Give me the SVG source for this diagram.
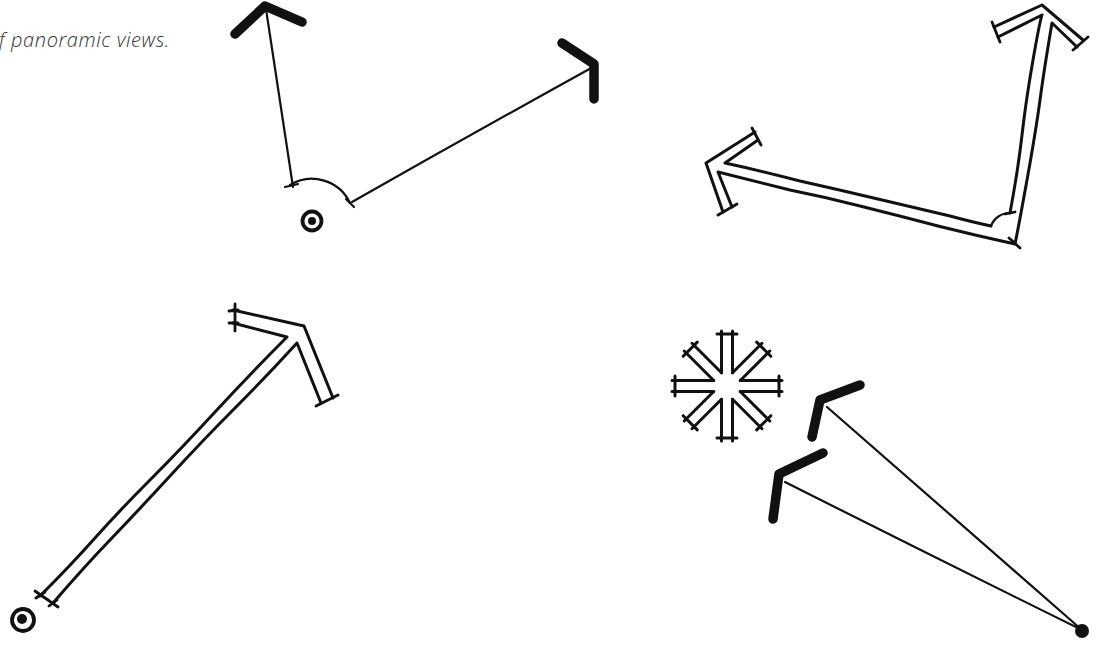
<svg xmlns="http://www.w3.org/2000/svg" xmlns:xlink="http://www.w3.org/1999/xlink" width="1098" height="645" viewBox="0 0 1098 645">
<style>
.thin{fill:none;stroke:#111;stroke-width:2.2;stroke-linecap:round;stroke-linejoin:round}
.tube{fill:none;stroke:#111;stroke-width:3;stroke-linecap:round;stroke-linejoin:round}
.thick{fill:none;stroke:#111;stroke-width:9.5;stroke-linecap:round;stroke-linejoin:round}
.ring{fill:none;stroke:#111;stroke-width:3.8}
.dot{fill:#111}
.cap{fill:none;stroke:#111;stroke-width:2.8;stroke-linecap:round}
.label{font-family:"Open Sans","Liberation Sans",sans-serif;font-style:italic;font-weight:300;font-size:20px;letter-spacing:0.6px;fill:#333}
</style>
<defs>
<path id="arm" d="M13.3,-5.5 L55,-5.5 M55,5.5 L13.3,5.5 M52,-10 L52,10"/>
</defs>
<rect width="1098" height="645" fill="#fff"/>
<text class="label" x="-1" y="47">f panoramic views.</text>

<g id="fig1">
  <path class="thick" d="M235,34 L265,6 L302,22"/>
  <path class="thick" d="M562,43 L594,64 L594,99"/>
  <path class="thin" d="M266,9 Q280,100 293,187"/>
  <path class="thin" d="M352,202 Q470,135 593,67"/>
  <path class="thin" d="M290,185 A42,42 0 0 1 350,203"/>
  <path class="thin" d="M285,187 L298,184 M346,199 L354,207"/>
  <circle class="ring" cx="312" cy="221" r="9.5"/>
  <circle class="dot" cx="312" cy="221" r="4"/>
</g>

<g id="fig2">
  <path class="tube" d="M758,140 L725,163 Q762,171 800,181 Q840,190 880,199.5 Q920,209 950,216 Q972,222 991,226 M1010,213 Q1018,170 1022,135 T1033,60 T1042,15 L998,37 M994,27 L1042,5 L1083,40 M1077,47 L1052,23 Q1044,70 1040,100 T1027,180 T1015,244 Q978,236 940,226.5 Q900,216 860,206 Q825,197 790,190 Q754,181 718,172 L732,207 M723,212 L706,163 L755,132"/>
  <path class="thin" d="M991,226 A20,20 0 0 1 1010,213"/>
  <path class="cap" d="M752,128 L761,145 M992,22 L1000,42 M1088,37 L1073,50 M718,215 L737,204"/>
  <path class="cap" d="M1005,214 L1015,212 M1009,238 L1020,248"/>
</g>

<g id="fig3">
  <path class="tube" d="M40,596 Q70,566 95,538 T150,480 T215,412 T287,337 L233,323 M233,310 L304,326 L333,398 M321,403 L297,343 Q265,378 235,408 T170,476 T110,540 T53,603"/>
  <path class="cap" d="M35,591 L58,607 M235,304 L235,331 M316,406 L338,395 M229,311 L238,310 M229,323 L238,323 M36,598 L45,592 M49,606 L57,600"/>
  <circle class="ring" cx="23" cy="620" r="11"/>
  <circle class="dot" cx="22" cy="619" r="5"/>
</g>

<g id="fig4">
  <g class="tube">
    <use xlink:href="#arm" transform="translate(727,386) rotate(0)"/>
    <use xlink:href="#arm" transform="translate(727,386) rotate(45)"/>
    <use xlink:href="#arm" transform="translate(727,386) rotate(90)"/>
    <use xlink:href="#arm" transform="translate(727,386) rotate(135)"/>
    <use xlink:href="#arm" transform="translate(727,386) rotate(180)"/>
    <use xlink:href="#arm" transform="translate(727,386) rotate(225)"/>
    <use xlink:href="#arm" transform="translate(727,386) rotate(270)"/>
    <use xlink:href="#arm" transform="translate(727,386) rotate(315)"/>
  </g>
  <path class="thick" d="M860,385 L820,400 L812,437"/>
  <path class="thick" d="M823,453 L779,474 L773,519"/>
  <path class="thin" d="M827,407 Q950,515 1082,630"/>
  <path class="thin" d="M785,482 Q930,555 1082,630"/>
  <circle class="dot" cx="1082" cy="631" r="7"/>
</g>
</svg>
